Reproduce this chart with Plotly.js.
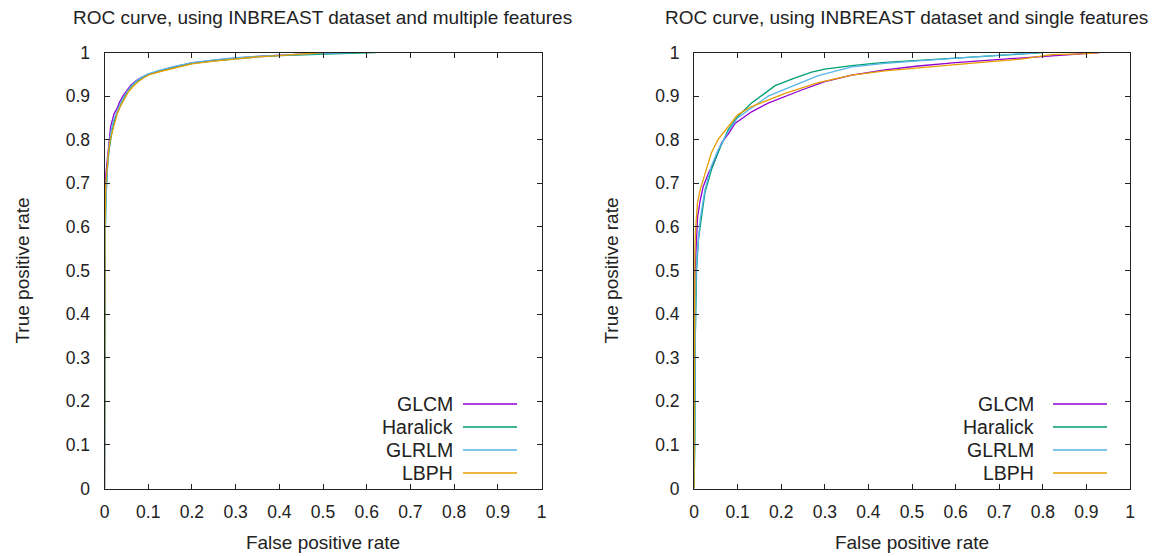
<!DOCTYPE html>
<html>
<head>
<meta charset="utf-8">
<script src="https://cdn.plot.ly/plotly-3.0.1.min.js"></script>
<style>html,body{margin:0;padding:0;background:#fff;}#chart{width:1158px;height:556px;}</style>
</head>
<body>
<div id="chart"></div>
<script>
// Series names and colours
const seriesNames = ["GLCM", "Haralick", "GLRLM", "LBPH"];
const seriesColors = ["#9400d3", "#009e73", "#56b4e9", "#e69f00"];

// Left panel: multiple features (FPR, TPR)
const multiGLCM_fpr = [0,0.001,0.003,0.005,0.008,0.011,0.014,0.018,0.022,0.028,0.034,0.042,0.05,0.06,0.072,0.085,0.1,0.125,0.16,0.2,0.25,0.3,0.35,0.4,0.45,0.5,0.55];
const multiGLCM_tpr = [0,0.66,0.72,0.74,0.78,0.8,0.83,0.845,0.86,0.87,0.885,0.9,0.912,0.925,0.935,0.943,0.95,0.957,0.967,0.976,0.982,0.987,0.991,0.994,0.996,0.998,1];
const multiHaralick_fpr = [0,0.001,0.002,0.004,0.007,0.011,0.015,0.02,0.026,0.033,0.042,0.05,0.06,0.072,0.085,0.1,0.125,0.16,0.2,0.25,0.3,0.35,0.4,0.45,0.5,0.56,0.62];
const multiHaralick_tpr = [0,0.49,0.6,0.68,0.74,0.78,0.81,0.835,0.855,0.872,0.89,0.905,0.92,0.932,0.941,0.949,0.957,0.966,0.975,0.981,0.986,0.99,0.993,0.995,0.997,0.998,1];
const multiGLRLM_fpr = [0,0.001,0.003,0.005,0.008,0.012,0.016,0.021,0.027,0.034,0.042,0.05,0.06,0.072,0.085,0.1,0.125,0.16,0.2,0.25,0.3,0.35,0.4,0.45,0.5,0.57];
const multiGLRLM_tpr = [0,0.53,0.66,0.72,0.76,0.8,0.825,0.845,0.862,0.878,0.895,0.908,0.922,0.934,0.943,0.951,0.959,0.968,0.977,0.983,0.988,0.991,0.994,0.996,0.998,1];
const multiLBPH_fpr = [0,0.001,0.003,0.006,0.009,0.013,0.018,0.024,0.03,0.038,0.046,0.055,0.065,0.077,0.09,0.105,0.13,0.16,0.2,0.25,0.3,0.35,0.4,0.45,0.5];
const multiLBPH_tpr = [0,0.6,0.7,0.74,0.77,0.8,0.82,0.845,0.862,0.88,0.895,0.91,0.922,0.933,0.942,0.95,0.957,0.965,0.974,0.98,0.985,0.99,0.993,0.996,1];

// Right panel: single features (FPR, TPR)
const singleGLCM_fpr = [0,0.002,0.005,0.008,0.014,0.021,0.033,0.048,0.063,0.08,0.094,0.132,0.17,0.209,0.247,0.3,0.362,0.438,0.514,0.6,0.667,0.75,0.82,0.89,0.93];
const singleGLCM_tpr = [0,0.48,0.554,0.62,0.66,0.692,0.723,0.753,0.792,0.815,0.837,0.864,0.884,0.9,0.914,0.933,0.948,0.96,0.969,0.977,0.982,0.988,0.993,0.998,1];
const singleHaralick_fpr = [0,0.002,0.003,0.004,0.006,0.01,0.018,0.025,0.04,0.055,0.078,0.1,0.132,0.163,0.186,0.232,0.27,0.3,0.362,0.43,0.514,0.59,0.667,0.73,0.8];
const singleHaralick_tpr = [0,0.1,0.35,0.44,0.5,0.57,0.623,0.678,0.731,0.77,0.822,0.853,0.884,0.907,0.924,0.942,0.955,0.962,0.97,0.977,0.982,0.987,0.99,0.995,1];
const singleGLRLM_fpr = [0,0.002,0.004,0.006,0.01,0.014,0.025,0.04,0.055,0.078,0.1,0.132,0.17,0.209,0.25,0.285,0.362,0.438,0.514,0.59,0.667,0.73,0.79];
const singleGLRLM_tpr = [0,0.356,0.45,0.52,0.56,0.616,0.685,0.74,0.776,0.818,0.85,0.873,0.9,0.916,0.932,0.947,0.967,0.975,0.981,0.986,0.992,0.996,1];
const singleLBPH_fpr = [0,0.002,0.004,0.008,0.014,0.025,0.04,0.055,0.078,0.1,0.132,0.17,0.209,0.285,0.362,0.438,0.514,0.6,0.667,0.75,0.82,0.89,0.93];
const singleLBPH_tpr = [0,0.55,0.6,0.655,0.685,0.723,0.77,0.8,0.83,0.857,0.876,0.891,0.906,0.931,0.948,0.958,0.964,0.972,0.978,0.985,0.995,0.997,1];

// Axis tick values / labels
const tickVals = [0,0.1,0.2,0.3,0.4,0.5,0.6,0.7,0.8,0.9,1];
const tickText = ["0","0.1","0.2","0.3","0.4","0.5","0.6","0.7","0.8","0.9","1"];

const titles = ["ROC curve, using INBREAST dataset and multiple features", "ROC curve, using INBREAST dataset and single features"];
const xTitle = "False positive rate";
const yTitle = "True positive rate";

const multi = [[multiGLCM_fpr, multiGLCM_tpr],[multiHaralick_fpr, multiHaralick_tpr],[multiGLRLM_fpr, multiGLRLM_tpr],[multiLBPH_fpr, multiLBPH_tpr]];
const single = [[singleGLCM_fpr, singleGLCM_tpr],[singleHaralick_fpr, singleHaralick_tpr],[singleGLRLM_fpr, singleGLRLM_tpr],[singleLBPH_fpr, singleLBPH_tpr]];

const W = 1158, H = 556;
const FONT = "Liberation Sans, Arial, sans-serif";
const TXT = "#222";
const traces = [];
multi.forEach((s, i) => traces.push({x: s[0], y: s[1], type: "scatter", mode: "lines", name: seriesNames[i], xaxis: "x", yaxis: "y", line: {color: seriesColors[i], width: 1.3}, showlegend: false}));
single.forEach((s, i) => traces.push({x: s[0], y: s[1], type: "scatter", mode: "lines", name: seriesNames[i], xaxis: "x2", yaxis: "y2", line: {color: seriesColors[i], width: 1.3}, showlegend: false}));

const px = v => v / W, py = v => 1 - v / H;
const axisBase = {
  range: [0, 1], tickvals: tickVals, ticktext: tickText, ticks: "inside", ticklen: 5, tickwidth: 1, tickcolor: "#222",
  showline: true, linecolor: "#222", linewidth: 1, mirror: "ticks", showgrid: false, zeroline: false,
  tickfont: {family: FONT, size: 17.5, color: TXT}, fixedrange: true
};
const yDom = [py(488.5), py(52.5)];
const xt = {text: xTitle, font: {family: FONT, size: 19, color: TXT}, standoff: 15};
const yt = {text: yTitle, font: {family: FONT, size: 19, color: TXT}, standoff: 31};
const layout = {
  width: W, height: H, margin: {l: 0, r: 0, t: 0, b: 0}, paper_bgcolor: "#fff", plot_bgcolor: "#fff",
  showlegend: false,
  xaxis: Object.assign({}, axisBase, {domain: [px(104.5), px(541.5)], anchor: "y", ticklabelstandoff: 7, title: xt}),
  yaxis: Object.assign({}, axisBase, {domain: yDom, anchor: "x", ticklabelstandoff: 10, title: yt}),
  xaxis2: Object.assign({}, axisBase, {domain: [px(694), px(1130)], anchor: "y2", ticklabelstandoff: 7, title: xt}),
  yaxis2: Object.assign({}, axisBase, {domain: yDom, anchor: "x2", ticklabelstandoff: 10, title: yt}),
  annotations: [], shapes: []
};
// panel titles
[[322, titles[0]], [906, titles[1]]].forEach(t => layout.annotations.push({
  xref: "paper", yref: "paper", x: px(t[0]), y: py(17), xanchor: "center", yanchor: "middle", showarrow: false,
  text: t[1], font: {family: FONT, size: 19, color: TXT}
}));
// gnuplot-style keys
const rowsY = [404, 427, 450, 473];
[[455, 463, 517], [1036, 1053, 1107]].forEach(k => {
  seriesNames.forEach((n, i) => {
    layout.annotations.push({xref: "paper", yref: "paper", x: px(k[0]), y: py(rowsY[i]), xanchor: "right", yanchor: "middle", showarrow: false, text: n, font: {family: FONT, size: 19.5, color: TXT}});
    layout.shapes.push({type: "line", xref: "paper", yref: "paper", x0: px(k[1]), x1: px(k[2]), y0: py(rowsY[i]), y1: py(rowsY[i]), line: {color: seriesColors[i], width: 1.3}});
  });
});
Plotly.newPlot("chart", traces, layout, {staticPlot: true, displayModeBar: false});
</script>
</body>
</html>
